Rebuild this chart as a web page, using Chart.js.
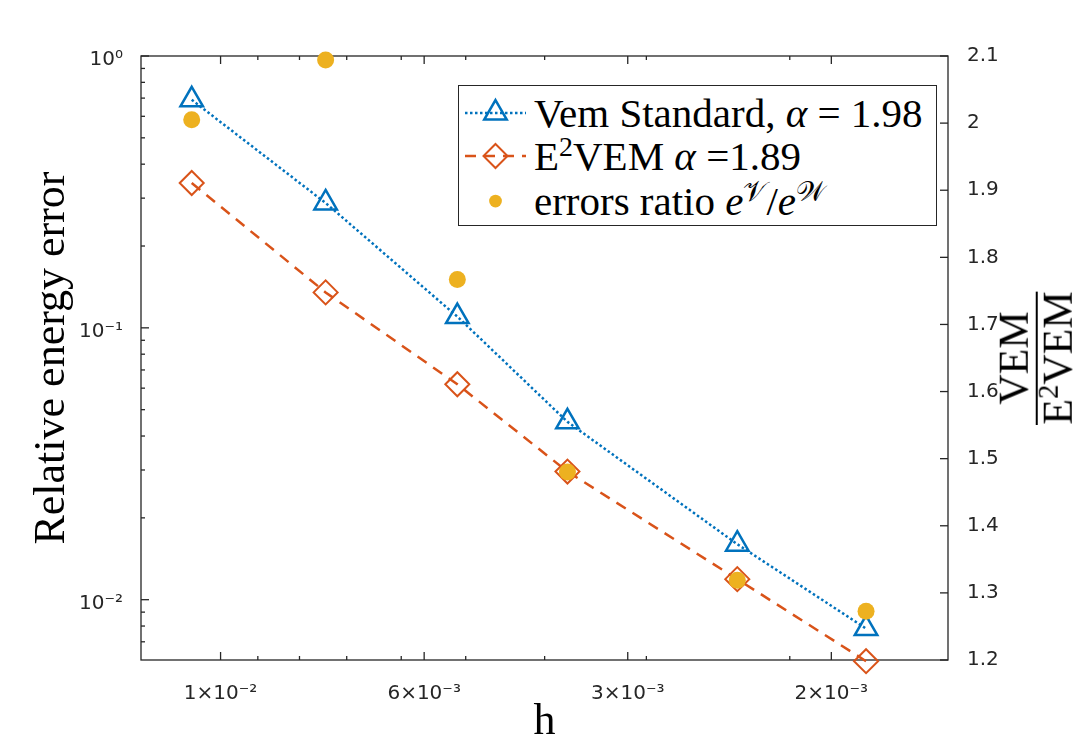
<!DOCTYPE html>
<html>
<head>
<meta charset="utf-8">
<script src="https://cdn.jsdelivr.net/npm/chart.js@4.4.1/dist/chart.umd.min.js"></script>
<style>
  body { margin: 0; background: #fff; }
  #wrap { position: relative; width: 1074px; height: 752px; overflow: hidden; }
  #legend {
    position: absolute; left: 458px; top: 85px; width: 477px; height: 139px;
    border: 1.3px solid #262626; background: #fff;
    font-family: "Liberation Serif", serif; font-size: 41px; color: #000;
  }
  #legend .row { position: absolute; left: 0; height: 44px; display: flex; align-items: center; white-space: nowrap; }
  #legend svg { margin-left: 6px; margin-right: 8px; }
  sup { font-size: 0.68em; vertical-align: 0.5em; line-height: 0; }
  #y2title {
    position: absolute; left: 1036px; top: 358px;
    transform: translate(-50%, -50%) rotate(-90deg);
    font-family: "Liberation Serif", serif; font-size: 42px; line-height: 0.78;
    text-align: center; color: #000;
  }
  #y2title .num { border-bottom: 2px solid #000; padding: 0 3px 5px; }
  #y2title .den { padding-top: 4px; }
</style>
</head>
<body>
<div id="wrap">
  <canvas id="c" width="1074" height="752"></canvas>
  <div id="legend"></div>
  <div id="y2title"><div class="num">VEM</div><div class="den">E<sup>2</sup>VEM</div></div>
</div>
<script>
// mesh size h
const hValues = [1.085e-2, 7.43e-3, 5.12e-3, 3.75e-3, 2.32e-3, 1.612e-3];
// relative energy errors
const vemStandard = [0.690, 0.288, 0.110, 0.0451, 0.0160, 0.00783];
const e2vem = [0.341, 0.135, 0.0620, 0.0296, 0.0119, 0.00594];
// ratio of the errors (right axis)
const errorsRatio = [2.005, 2.094, 1.767, 1.480, 1.319, 1.2725];

// axis ticks
const xTickValues = [1e-2, Math.pow(10, -2.25), Math.pow(10, -2.5), Math.pow(10, -2.75)];
const xTickLabels = ['1×10⁻²', '6×10⁻³', '3×10⁻³', '2×10⁻³'];
const xMinorTicks = [9e-3, 8e-3, 7e-3, 6e-3, 5e-3, 4e-3, 3e-3, 2e-3];
const yTickValues = [0.01, 0.1, 1];
const yTickLabels = ['10⁻²', '10⁻¹', '10⁰'];
const yMinorTicks = [0.007, 0.008, 0.009, 0.02, 0.03, 0.04, 0.05, 0.06, 0.07, 0.08, 0.09,
                     0.2, 0.3, 0.4, 0.5, 0.6, 0.7, 0.8, 0.9];
const ratioTicks = [1.2, 1.3, 1.4, 1.5, 1.6, 1.7, 1.8, 1.9, 2.0, 2.1];

const legendLabels = [
  'Vem Standard, <i>α</i> = 1.98',
  'E<sup>2</sup>VEM <i>α</i> =1.89',
  'errors ratio <i>e</i><sup>𝒱</sup>/<i>e</i><sup>𝒲</sup>'
];

const axisColor = '#262626';
const tickFont = { family: '"DejaVu Sans", sans-serif', size: 20 };
const titleFont = { family: '"Liberation Serif", serif', size: 44 };

const pts = (ys) => hValues.map((x, i) => ({ x: x, y: ys[i] }));

// box + inward tick marks like the original figure
const frameTicks = {
  id: 'frameTicks',
  beforeDatasetsDraw(chart) {
    const { ctx, chartArea: a, scales } = chart;
    ctx.save();
    ctx.strokeStyle = axisColor;
    ctx.lineWidth = 1.3;
    ctx.strokeRect(a.left, a.top, a.right - a.left, a.bottom - a.top);
    const seg = (x1, y1, x2, y2) => {
      ctx.beginPath(); ctx.moveTo(x1, y1); ctx.lineTo(x2, y2); ctx.stroke();
    };
    xTickValues.forEach(v => {
      const x = scales.x.getPixelForValue(v);
      seg(x, a.bottom, x, a.bottom - 8); seg(x, a.top, x, a.top + 8);
    });
    xMinorTicks.forEach(v => {
      const x = scales.x.getPixelForValue(v);
      seg(x, a.bottom, x, a.bottom - 4); seg(x, a.top, x, a.top + 4);
    });
    yTickValues.forEach(v => {
      const y = scales.y.getPixelForValue(v);
      seg(a.left, y, a.left + 8, y);
    });
    yMinorTicks.forEach(v => {
      const y = scales.y.getPixelForValue(v);
      seg(a.left, y, a.left + 4, y);
    });
    ratioTicks.forEach(v => {
      const y = scales.y2.getPixelForValue(v);
      seg(a.right, y, a.right - 8, y);
    });
    ctx.restore();
  }
};

const chart = new Chart(document.getElementById('c'), {
  type: 'line',
  data: {
    datasets: [
      {
        label: 'errors ratio',
        data: pts(errorsRatio),
        yAxisID: 'y2',
        showLine: false,
        pointStyle: 'circle',
        pointRadius: 8.5,
        pointBackgroundColor: '#EDB120',
        pointBorderColor: '#EDB120',
        pointBorderWidth: 0,
        clip: false,
        order: 0
      },
      {
        label: 'Vem Standard',
        data: pts(vemStandard),
        yAxisID: 'y',
        borderColor: '#0072BD',
        borderWidth: 2.5,
        borderDash: [2.5, 2.5],
        pointStyle: 'triangle',
        pointRadius: 13,
        pointBorderColor: '#0072BD',
        pointBackgroundColor: 'rgba(0,0,0,0)',
        pointBorderWidth: 2.5,
        clip: false,
        order: 2
      },
      {
        label: 'E2VEM',
        data: pts(e2vem),
        yAxisID: 'y',
        borderColor: '#D95319',
        borderWidth: 2.5,
        borderDash: [11, 8],
        pointStyle: 'rectRot',
        pointRadius: 12,
        pointBorderColor: '#D95319',
        pointBackgroundColor: 'rgba(0,0,0,0)',
        pointBorderWidth: 2,
        clip: false,
        order: 1
      }
    ]
  },
  options: {
    responsive: false,
    animation: false,
    layout: { padding: { top: 56, left: 0, right: 0, bottom: 0 } },
    plugins: { legend: { display: false }, tooltip: { enabled: false } },
    scales: {
      x: {
        type: 'logarithmic',
        reverse: true,
        min: 0.0012786,
        max: 0.012523,
        afterBuildTicks: s => { s.ticks = xTickValues.map(v => ({ value: v })); },
        afterFit: s => { s.height = 92; },
        grid: { display: false },
        border: { display: false },
        ticks: {
          autoSkip: false, maxRotation: 0, padding: 14,
          font: tickFont, color: axisColor,
          callback: (v, i) => xTickLabels[i]
        },
        title: { display: true, text: 'h', font: titleFont, color: '#000', padding: { top: 0, bottom: 3 } }
      },
      y: {
        type: 'logarithmic',
        position: 'left',
        min: 0.006,
        max: 1,
        afterBuildTicks: s => { s.ticks = yTickValues.map(v => ({ value: v })); },
        afterFit: s => { s.width = 141; },
        grid: { display: false },
        border: { display: false },
        ticks: {
          padding: 10, labelOffset: 4, font: tickFont, color: axisColor,
          callback: (v, i) => yTickLabels[i]
        },
        title: { display: true, text: 'Relative energy error', font: titleFont, color: '#000', padding: { top: 26, bottom: 0 } }
      },
      y2: {
        type: 'linear',
        position: 'right',
        min: 1.2,
        max: 2.1,
        afterBuildTicks: s => { s.ticks = ratioTicks.map(v => ({ value: v })); },
        afterFit: s => { s.width = 126; },
        grid: { display: false },
        border: { display: false },
        ticks: {
          padding: 11, font: tickFont, color: axisColor,
          callback: v => String(+v.toFixed(1))
        }
      }
    }
  },
  plugins: [frameTicks]
});

// legend drawn as HTML so the math labels keep their superscripts
const legend = document.getElementById('legend');
const legendSets = [chart.data.datasets[1], chart.data.datasets[2], chart.data.datasets[0]];
const rowCenters = [27, 70, 115];

function sampleSvg(ds) {
  const w = 61, hgt = 44, cx = 30.5, cy = 22;
  let s = '<svg width="' + w + '" height="' + hgt + '" xmlns="http://www.w3.org/2000/svg">';
  if (ds.showLine !== false) {
    s += '<line x1="0" y1="' + cy + '" x2="' + w + '" y2="' + cy + '" stroke="' + ds.borderColor +
         '" stroke-width="' + ds.borderWidth + '" stroke-dasharray="' + ds.borderDash.join(',') + '"/>';
  }
  const r = ds.pointRadius;
  if (ds.pointStyle === 'triangle') {
    const dx = r * Math.sin(Math.PI / 3);
    s += '<polygon points="' + cx + ',' + (cy - r) + ' ' + (cx + dx) + ',' + (cy + r / 2) + ' ' + (cx - dx) + ',' + (cy + r / 2) +
         '" fill="none" stroke="' + ds.pointBorderColor + '" stroke-width="' + ds.pointBorderWidth + '"/>';
  } else if (ds.pointStyle === 'rectRot') {
    s += '<polygon points="' + cx + ',' + (cy - r) + ' ' + (cx + r) + ',' + cy + ' ' + cx + ',' + (cy + r) + ' ' + (cx - r) + ',' + cy +
         '" fill="none" stroke="' + ds.pointBorderColor + '" stroke-width="' + ds.pointBorderWidth + '"/>';
  } else {
    s += '<circle cx="' + cx + '" cy="' + cy + '" r="' + (r * 0.75) + '" fill="' + ds.pointBackgroundColor + '"/>';
  }
  return s + '</svg>';
}

legendSets.forEach((ds, i) => {
  const row = document.createElement('div');
  row.className = 'row';
  row.style.top = (rowCenters[i] - 22) + 'px';
  row.innerHTML = sampleSvg(ds) + '<span>' + legendLabels[i] + '</span>';
  legend.appendChild(row);
});
</script>
</body>
</html>
